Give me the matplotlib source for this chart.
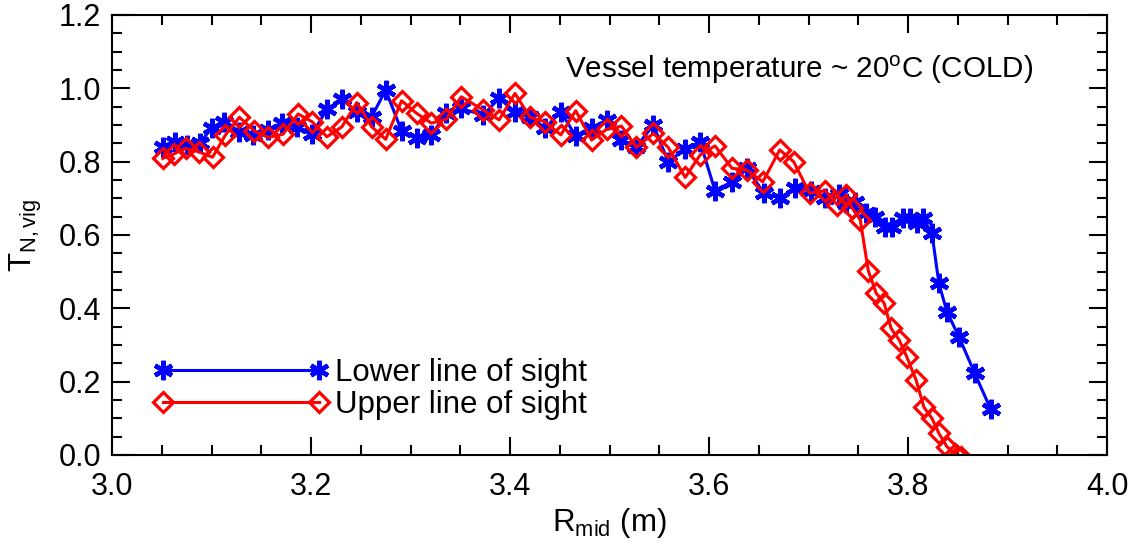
import matplotlib
matplotlib.use("Agg")
import matplotlib.pyplot as plt
from matplotlib.ticker import MultipleLocator

plt.rcParams['font.family'] = ['Liberation Sans', 'DejaVu Sans']
plt.rcParams['mathtext.fontset'] = 'custom'
plt.rcParams['mathtext.rm'] = 'Liberation Sans'
plt.rcParams['mathtext.it'] = 'Liberation Sans:italic'
plt.rcParams['mathtext.bf'] = 'Liberation Sans:bold'

# ---- data ----
lower_r = [3.051, 3.063, 3.075, 3.088, 3.100, 3.113, 3.128, 3.142, 3.157, 3.171,
           3.186, 3.201, 3.216, 3.231, 3.246, 3.261, 3.275, 3.291, 3.306, 3.321,
           3.336, 3.351, 3.373, 3.389, 3.405, 3.420, 3.435, 3.451, 3.466, 3.482,
           3.497, 3.512, 3.527, 3.544, 3.559, 3.576, 3.591, 3.606, 3.623, 3.638,
           3.655, 3.671, 3.686, 3.702, 3.717, 3.731, 3.738, 3.747, 3.758, 3.767,
           3.777, 3.784, 3.795, 3.802, 3.809, 3.815, 3.824, 3.831, 3.839, 3.851,
           3.867, 3.883]
lower_t = [0.841, 0.854, 0.845, 0.850, 0.891, 0.909, 0.882, 0.873, 0.886, 0.905,
           0.895, 0.875, 0.943, 0.970, 0.936, 0.923, 0.995, 0.884, 0.864, 0.873,
           0.932, 0.945, 0.927, 0.973, 0.936, 0.923, 0.891, 0.936, 0.870, 0.891,
           0.914, 0.859, 0.841, 0.900, 0.800, 0.834, 0.854, 0.721, 0.745, 0.782,
           0.715, 0.700, 0.727, 0.721, 0.700, 0.712, 0.686, 0.691, 0.659, 0.650,
           0.623, 0.623, 0.645, 0.645, 0.632, 0.645, 0.605, 0.468, 0.391, 0.323,
           0.223, 0.125]

upper_r = [3.051, 3.062, 3.074, 3.087, 3.101, 3.114, 3.128, 3.143, 3.157, 3.172,
           3.187, 3.201, 3.216, 3.231, 3.246, 3.261, 3.275, 3.291, 3.306, 3.321,
           3.336, 3.351, 3.373, 3.389, 3.405, 3.420, 3.435, 3.451, 3.466, 3.482,
           3.497, 3.512, 3.527, 3.544, 3.559, 3.576, 3.591, 3.606, 3.623, 3.638,
           3.654, 3.671, 3.685, 3.701, 3.717, 3.729, 3.738, 3.744, 3.752, 3.760,
           3.768, 3.776, 3.783, 3.791, 3.799, 3.808, 3.816, 3.824, 3.831, 3.839,
           3.847, 3.853]
upper_t = [0.809, 0.821, 0.836, 0.827, 0.812, 0.873, 0.921, 0.884, 0.866, 0.875,
           0.930, 0.909, 0.868, 0.895, 0.961, 0.895, 0.861, 0.966, 0.932, 0.905,
           0.916, 0.977, 0.941, 0.914, 0.986, 0.921, 0.909, 0.873, 0.939, 0.859,
           0.888, 0.897, 0.839, 0.877, 0.839, 0.757, 0.818, 0.843, 0.782, 0.777,
           0.745, 0.832, 0.800, 0.714, 0.721, 0.682, 0.709, 0.673, 0.641, 0.503,
           0.441, 0.414, 0.345, 0.314, 0.266, 0.205, 0.130, 0.100, 0.059, 0.023,
           0.003, -0.005]

labels = ['Lower line of sight', 'Upper line of sight']
x_ticks = [3.0, 3.2, 3.4, 3.6, 3.8, 4.0]
y_ticks = [0.0, 0.2, 0.4, 0.6, 0.8, 1.0, 1.2]

FS = 22
FS_TXT = 22.5
FS_NOTE = 21.3

fig = plt.figure(figsize=(11.42, 5.43), dpi=100)
ax = fig.add_axes([0.0981, 0.1621, 0.9694 - 0.0981, 0.9724 - 0.1621])

l1, = ax.plot(lower_r, lower_t, color='#0000ff', lw=2.2, marker=(6, 2, 0),
              ms=14, mew=3.2, label=labels[0])
l2, = ax.plot(upper_r, upper_t, color='#ff0000', lw=2.2, marker='D',
              ms=10, mew=2.3, mfc='none', label=labels[1])

ax.set_xlim(3.0, 4.0)
ax.set_ylim(0.0, 1.2)
ax.set_xticks(x_ticks)
ax.set_yticks(y_ticks)
ax.set_xticklabels([f'{v:.1f}' for v in x_ticks])
ax.set_yticklabels([f'{v:.1f}' for v in y_ticks])
ax.xaxis.set_minor_locator(MultipleLocator(0.05))
ax.yaxis.set_minor_locator(MultipleLocator(0.05))
ax.tick_params(which='both', direction='in', top=True, right=True, width=1.5)
ax.tick_params(which='major', length=13, labelsize=FS)
ax.tick_params(which='minor', length=7)
ax.tick_params(axis='x', which='major', pad=12)
ax.tick_params(axis='y', which='major', pad=8)
for s in ax.spines.values():
    s.set_linewidth(1.5)

ax.set_xlabel(r'R$_{\mathrm{mid}}$ (m)', fontsize=FS_TXT, labelpad=3)
ax.set_ylabel(r'T$_{\mathrm{N,vig}}$', fontsize=FS_TXT, labelpad=10)

ax.text(0.455, 0.875, r'Vessel temperature ~ 20$^{\mathrm{o}}$C (COLD)',
        transform=ax.transAxes, ha='left', va='center', fontsize=FS_NOTE)

leg = ax.legend(handles=[l1, l2], loc='lower left', bbox_to_anchor=(0.042, 0.08),
                numpoints=2, frameon=False, fontsize=FS_TXT, handlelength=5.6,
                handletextpad=0.2, labelspacing=0.05, borderaxespad=0.0,
                borderpad=0.0)

fig.savefig('out.png', dpi=100)
